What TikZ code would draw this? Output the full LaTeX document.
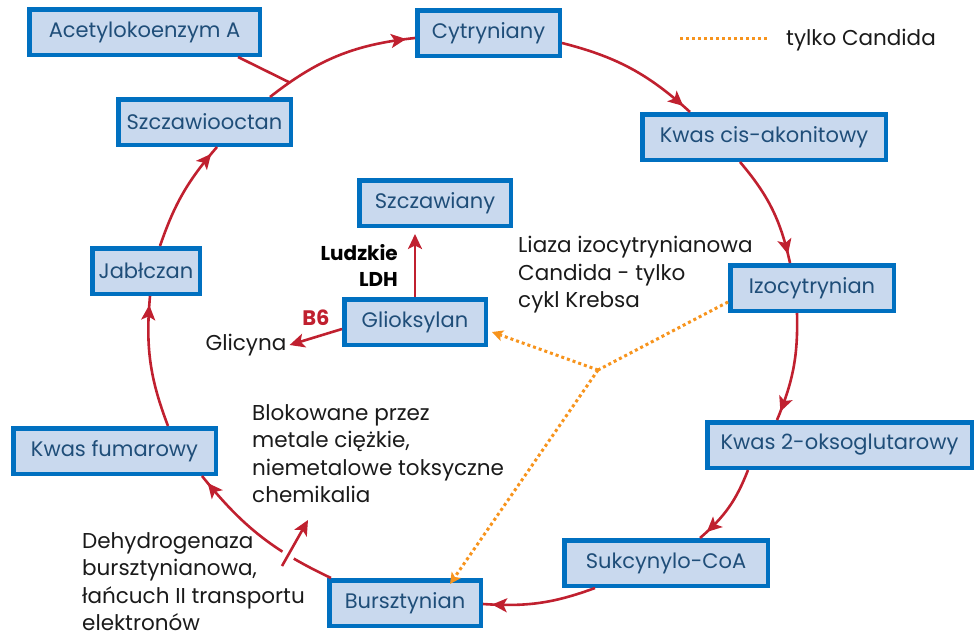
\documentclass[tikz,border=0pt]{standalone}
\usepackage{fontspec}
\setmainfont{Poppins}
\usetikzlibrary{arrows.meta,decorations.markings,calc}
\definecolor{boxfill}{HTML}{C9D9EE}
\definecolor{boxline}{HTML}{0070C0}
\definecolor{boxtext}{HTML}{1F4E79}
\definecolor{cyc}{HTML}{C0202F}
\definecolor{cand}{HTML}{F7941D}
\definecolor{bodytext}{HTML}{1A1A1A}
\begin{document}
\begin{tikzpicture}[x=1pt,y=-1pt,
  box/.style={draw=boxline, fill=boxfill, line width=4.5pt, text=boxtext,
    font=\fontsize{21}{26}\selectfont, minimum height=45.5pt, inner sep=0pt},
  txt/.style={text=bodytext, font=\fontsize{21.5}{27.5}\selectfont, align=left, inner sep=0pt},
  cycline/.style={draw=cyc, line width=2.6pt},
  redtip/.style={-{Stealth[length=15pt,width=14pt,inset=3.5pt]}},
  cycarrow/.style={cycline, postaction={decorate},
    decoration={markings, mark=at position -9pt with {\arrow{Stealth[length=15pt,width=14pt,inset=3.5pt]}}}},
  candline/.style={draw=cand, line width=3pt, dash pattern=on 3pt off 3pt},
  candtip/.style={-{Stealth[length=11pt,width=11pt,inset=2.5pt]}},
]
\useasboundingbox (0,0) rectangle (976,637);

% boxes
\node[box, minimum width=230.5pt] (acet) at (144.5,32) {Acetylokoenzym A};
\node[box, minimum width=142.5pt] (cytr) at (488.5,33) {Cytryniany};
\node[box, minimum width=243.5pt] (kcis) at (764,137) {Kwas cis-akonitowy};
\node[box, minimum width=172.5pt] (szcz) at (204.5,122) {Szczawiooctan};
\node[box, minimum width=151.5pt] (szczaw) at (435,203) {Szczawiany};
\node[box, minimum width=107.5pt] (jabl) at (146,271) {Jabłczan};
\node[box, minimum width=141.5pt] (gliok) at (415,322) {Glioksylan};
\node[box, minimum width=163.5pt] (izo) at (812,288) {Izocytrynian};
\node[box, minimum width=202.5pt] (kfum) at (114.5,451) {Kwas fumarowy};
\node[box, minimum width=264.5pt] (k2) at (839.5,445) {Kwas 2-oksoglutarowy};
\node[box, minimum width=203.5pt] (sukc) at (666,563) {Sukcynylo-CoA};
\node[box, minimum width=151.5pt] (burszt) at (405,603) {Bursztynian};

% cycle arcs
\draw[cycarrow] ([xshift=65.5pt]szcz.north) to[bend left=16] coordinate[pos=0.14] (acj) ([yshift=-5pt]cytr.west);
\draw[cycarrow] ([yshift=-10pt]cytr.east) to[bend left=14] ([xshift=-74pt]kcis.north);
\draw[cycarrow] ([xshift=-24pt]kcis.south) to[bend left=14] ([xshift=-22pt]izo.north);
\draw[cycarrow] ([xshift=-15pt]izo.south) to[bend left=12] ([xshift=-62.5pt]k2.north);
\draw[cycarrow] ([xshift=-91.5pt]k2.south) to[bend left=14] ([xshift=34pt]sukc.north);
\draw[cycarrow] ([xshift=-71pt]sukc.south) to[bend left=12] ([yshift=-1pt]burszt.east);
\draw[cycarrow] ([xshift=-74pt]burszt.north) to[bend left=13] ([xshift=87.5pt]kfum.south);
\draw[cycarrow] ([xshift=53.5pt]kfum.north) to[bend left=13] ([xshift=4pt]jabl.south);
\draw[cycarrow] ([xshift=14pt]jabl.north) to[bend left=11] ([xshift=12.5pt]szcz.south);

% acetyl-CoA joins
\draw[cycline] ([xshift=93.5pt]acet.south) -- (acj);

% blocked succinate dehydrogenase
\coordinate (blkA) at (282,566);
\coordinate (blkB) at (308,520);
\draw[white, line width=13pt] (blkA) -- ($(blkA)!0.38!(blkB)$);
\draw[cycline, redtip] (blkA) -- (blkB);

% glyoxylate branches
\draw[cycline, redtip] (gliok.north) -- ([xshift=-20pt,yshift=-6pt]szczaw.south);
\node[txt, anchor=center] (glicyna) at (246,345) {Glicyna};
\draw[cycline, redtip] ([yshift=-7pt]gliok.west) -- ([xshift=3pt]glicyna.east);
\node[text=cyc, font=\bfseries\fontsize{21}{24}\selectfont, inner sep=0pt] (b6) at (316,318) {B6};
\node[txt, font=\bfseries\fontsize{20}{26}\selectfont, align=right, anchor=east, text=black] (ldh) at (398,265) {Ludzkie\\LDH};

% Candida only
\coordinate (cj) at (598,370);
\draw[candline] ([yshift=-14pt]izo.west) -- (cj);
\draw[candline, candtip] (cj) -- ([xshift=4pt,yshift=-10pt]gliok.east);
\draw[candline, candtip] (cj) -- ([xshift=45pt,yshift=-6pt]burszt.north);

% texts
\node[txt, anchor=west] (liaza) at (518,275) {Liaza izocytrynianowa\\Candida - tylko\\cykl Krebsa};
\node[txt, anchor=west] (blok) at (252,453.5) {Blokowane przez\\metale ciężkie,\\niemetalowe toksyczne\\chemikalia};
\node[txt, anchor=west] (dehyd) at (82,581.5) {Dehydrogenaza\\bursztynianowa,\\łańcuch II transportu\\elektronów};

% legend
\coordinate (legA) at (680,38);
\coordinate (legB) at (768,38);
\draw[candline] (legA) -- (legB);
\node[txt, anchor=west] (legt) at (786,40) {tylko Candida};
\end{tikzpicture}
\end{document}
